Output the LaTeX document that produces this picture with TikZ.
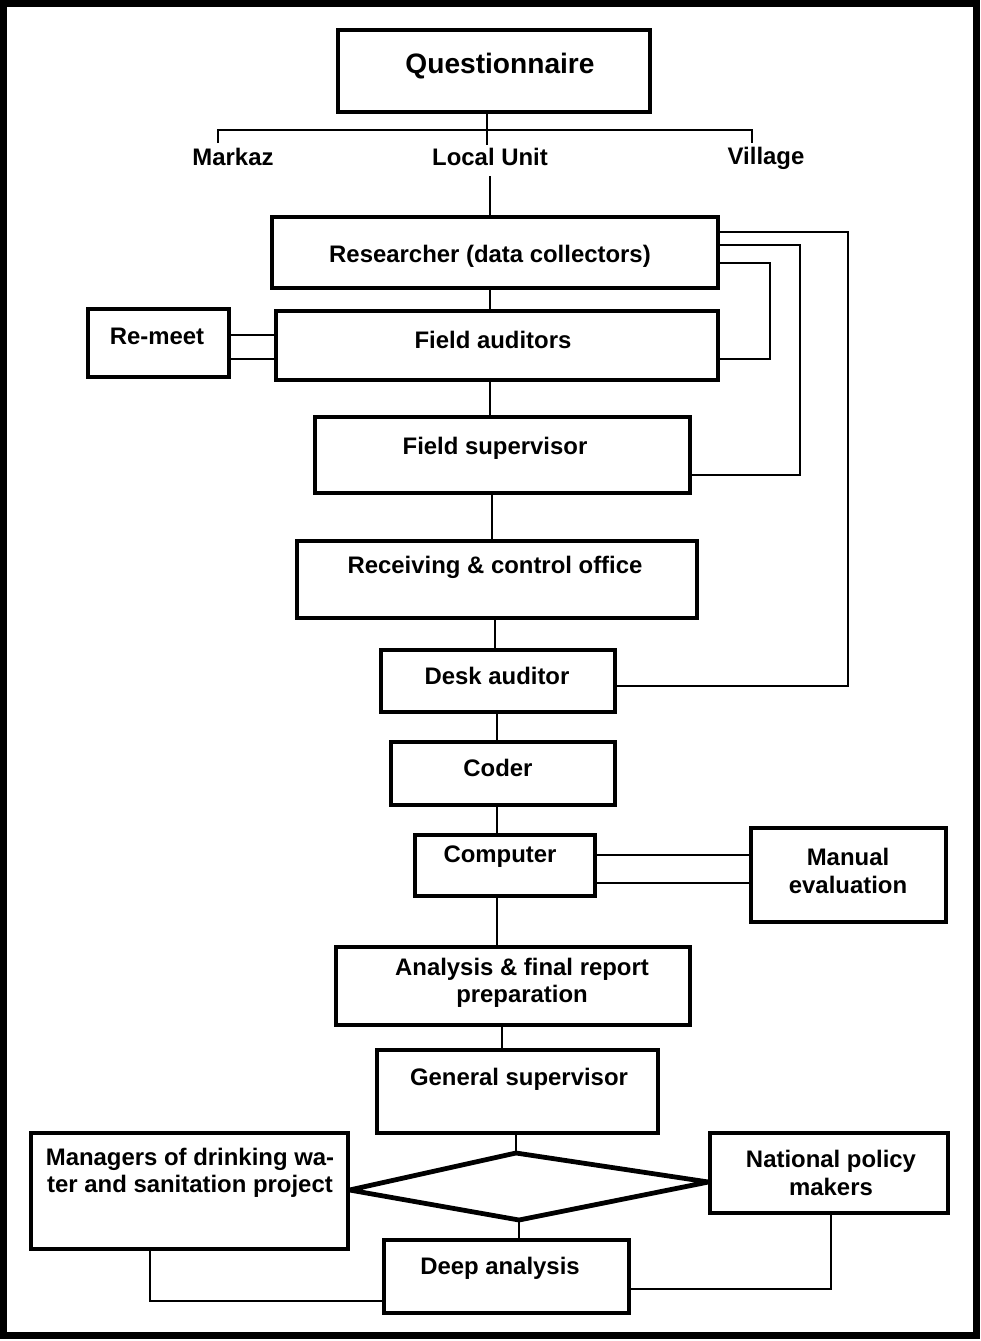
\documentclass[tikz,border=0pt]{standalone}
\usepackage{fontspec}
\setmainfont{Liberation Sans}
\usetikzlibrary{fit}
\begin{document}
\begin{tikzpicture}[x=0.025cm,y=-0.025cm,
  box/.style={draw, line width=2.2pt, inner sep=0pt},
  conn/.style={line width=2pt},
  dia/.style={line width=3.4pt, line join=round},
  txt/.style={font=\fontsize{17}{19.5}\selectfont\bfseries, align=center, inner sep=0pt},
  bigtxt/.style={font=\fontsize{20}{23}\selectfont\bfseries, align=center, inner sep=0pt}]
\useasboundingbox (0,0) rectangle (980,1341);
% outer frame
\draw[line width=7*0.025cm] (3.5,3.5) rectangle (976.5,1335.5);
% boxes
\node[box, fit={(338,30) (650,112)}] (q) {};
\node[box, fit={(272,217) (718,288)}] (r) {};
\node[box, fit={(276,311) (718,380)}] (fa) {};
\node[box, fit={(88,309) (229,377)}] (rm) {};
\node[box, fit={(315,417) (690,493)}] (fs) {};
\node[box, fit={(297,541) (697,618)}] (rc) {};
\node[box, fit={(381,650) (615,712)}] (da) {};
\node[box, fit={(391,742) (615,805)}] (cd) {};
\node[box, fit={(415,835) (595,896)}] (cp) {};
\node[box, fit={(751,828) (946,922)}] (me) {};
\node[box, fit={(336,947) (690,1025)}] (an) {};
\node[box, fit={(377,1050) (658,1133)}] (gs) {};
\node[box, fit={(31,1133) (348,1249)}] (mg) {};
\node[box, fit={(710,1133) (948,1213)}] (np) {};
\node[box, fit={(384,1240) (629,1313)}] (dp) {};
% texts
\node[bigtxt] at (500,66) {Questionnaire};
\node[txt] (mk) at (233,157) {Markaz};
\node[txt] (lu) at (490,157) {Local Unit};
\node[txt] (vl) at (766,158) {Village};
\node[txt] at (490,256) {Researcher (data collectors)};
\node[txt] at (493,340) {Field auditors};
\node[txt] at (157,336) {Re-meet};
\node[txt] at (495,448) {Field supervisor};
\node[txt] at (495,567) {Receiving \& control office};
\node[txt] at (497,676) {Desk auditor};
\node[txt] at (498,768) {Coder};
\node[txt] at (500,857) {Computer};
\node[txt] at (848,871) {Manual\\evaluation};
\node[txt] at (522,983) {Analysis \& final report\\preparation};
\node[txt] at (519,1079) {General supervisor};
\node[txt] at (190,1173) {Managers of drinking wa-\\ter and sanitation project};
\node[txt] at (831,1173) {National policy\\makers};
\node[txt] at (500,1268) {Deep analysis};
% bracket under questionnaire
\coordinate (bc) at (487,130);
\draw[conn] (487,0 |- q.south) -- (bc);
\draw[conn] (218,143) -- (218,130) -- (752,130) -- (752,143);
\draw[conn] (bc) -- (487,145);
% main chain
\draw[conn] ([yshift=-0.25cm]lu.south) -- (490,0 |- r.north);
\draw[conn] (490,0 |- r.south) -- (490,0 |- fa.north);
\draw[conn] (490,0 |- fa.south) -- (490,0 |- fs.north);
\draw[conn] (492,0 |- fs.south) -- (492,0 |- rc.north);
\draw[conn] (495,0 |- rc.south) -- (495,0 |- da.north);
\draw[conn] (497,0 |- da.south) -- (497,0 |- cd.north);
\draw[conn] (497,0 |- cd.south) -- (497,0 |- cp.north);
\draw[conn] (497,0 |- cp.south) -- (497,0 |- an.north);
\draw[conn] (502,0 |- an.south) -- (502,0 |- gs.north);
% re-meet links
\draw[conn] (0,335 -| rm.east) -- (0,335 -| fa.west);
\draw[conn] (0,359 -| rm.east) -- (0,359 -| fa.west);
% right feedback loops
\draw[conn] (0,232 -| r.east) -- (848,232) -- (848,686) -- (0,686 -| da.east);
\draw[conn] (0,245 -| r.east) -- (800,245) -- (800,475) -- (0,475 -| fs.east);
\draw[conn] (0,263 -| r.east) -- (770,263) -- (770,359) -- (0,359 -| fa.east);
% computer - manual evaluation
\draw[conn] (0,855 -| cp.east) -- (0,855 -| me.west);
\draw[conn] (0,883 -| cp.east) -- (0,883 -| me.west);
% diamond
\coordinate (dt) at (516,1153);
\coordinate (dr) at (0,1182 -| np.west);
\coordinate (db) at (519,1220);
\coordinate (dl) at (0,1190 -| mg.east);
\draw[dia] (dt) -- (dr) -- (db) -- (dl) -- cycle;
\draw[conn] (516,0 |- gs.south) -- (dt);
\draw[conn] (db) -- (519,0 |- dp.north);
% bottom connectors
\draw[conn] (150,0 |- mg.south) -- (150,1301) -- (0,1301 -| dp.west);
\draw[conn] (831,0 |- np.south) -- (831,1289) -- (0,1289 -| dp.east);
\end{tikzpicture}
\end{document}
